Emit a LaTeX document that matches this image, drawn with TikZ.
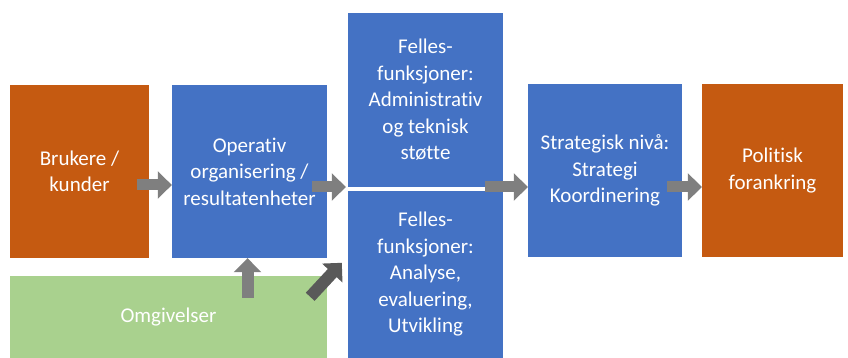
\documentclass[tikz,border=0pt]{standalone}
\usepackage{fontspec}
\setmainfont[Ligatures=NoCommon]{Carlito}
\usetikzlibrary{arrows.meta,calc}
\definecolor{boxblue}{HTML}{4472C4}
\definecolor{boxorange}{HTML}{C55A11}
\definecolor{boxgreen}{HTML}{A9D18E}
\definecolor{arrowgray}{HTML}{7F7F7F}
\definecolor{arrowdark}{HTML}{595959}
\begin{document}
\begin{tikzpicture}[x=1pt,y=-1pt,
  box/.style={draw=none,inner sep=0pt,align=center,text=white,
    font=\fontsize{21}{26.5}\selectfont},
  bluebox/.style={box,fill=boxblue},
  orangebox/.style={box,fill=boxorange},
  greenbox/.style={box,fill=boxgreen},
  blockarrow/.style={draw=arrowgray,line width=11pt,
    -{Triangle[length=14pt,width=27pt]}},
  darkarrow/.style={draw=arrowdark,line width=12pt,
    -{Triangle[length=14pt,width=27pt]}}]
\useasboundingbox (0,0) rectangle (848,358);

% main chain of boxes
\node[orangebox,minimum width=139pt,minimum height=173pt] (b) at (79.5,171.5) {Brukere /\\kunder};
\node[bluebox,minimum width=155pt,minimum height=173pt] (o) at (249.5,171.5) {Operativ\\organisering /\\resultatenheter};
\node[bluebox,minimum width=155pt,minimum height=174pt] (ft) at (425.5,100) {Felles-\\funksjoner:\\Administrativ\\og teknisk\\støtte};
\node[bluebox,minimum width=155pt,minimum height=167pt] (fb) at (425.5,274.5) {Felles-\\funksjoner:\\Analyse,\\evaluering,\\Utvikling};
\node[bluebox,minimum width=154pt,minimum height=173pt] (s) at (605,170.5) {Strategisk nivå:\\Strategi\\Koordinering};
\node[orangebox,minimum width=141pt,minimum height=173pt] (p) at (772.5,170.5) {Politisk\\forankring};
\node[greenbox,minimum width=317pt,minimum height=82pt] (g) at (168.5,317) {\raisebox{-3pt}{Omgivelser}};

% level of the horizontal arrows
\coordinate (mid) at (0,187);

% horizontal flow arrows
\draw[blockarrow] ($(b.east |- mid)+(-12,-2)$) -- ($(o.west |- mid)+(0,-2)$);
\draw[blockarrow] ($(o.east |- mid)+(-15,0)$) -- ($(ft.west |- mid)+(-2,0)$);
\draw[blockarrow] ($(ft.east |- mid)+(-18,0)$) -- (s.west |- mid);
\draw[blockarrow] ($(s.east |- mid)+(-15,0)$) -- (p.west |- mid);

% arrows from the environment
\draw[blockarrow,line width=12pt] ($(g.north -| o.south)+(-2,22)$) -- ($(o.south)+(-2,0)$);
\draw[darkarrow] ($(g.north east)+(-17,21)$) -- ($(fb.north west)+(-6,72)$);
\end{tikzpicture}
\end{document}
